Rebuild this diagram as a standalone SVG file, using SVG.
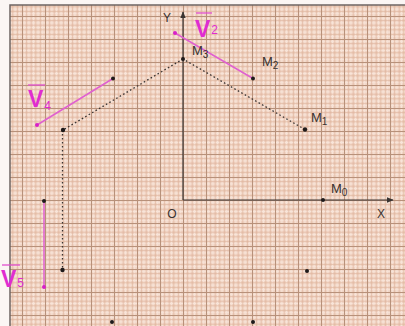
<svg xmlns="http://www.w3.org/2000/svg" width="405" height="326" viewBox="0 0 405 326">
<style>
.lbl{font-family:"Liberation Sans",Arial,sans-serif;fill:#3a3230;font-size:13px}
.ax{font-family:"Liberation Sans",Arial,sans-serif;fill:#3a3230;font-size:12px}
.vl{font-family:"Liberation Sans",Arial,sans-serif;fill:#e02cd0;font-size:23px;font-weight:bold}
.sub{font-size:10px}
.vsub{font-size:12px;font-weight:normal}
.pt{fill:#1e1a1a}
.mpt{fill:#d820c8}
.axis{stroke:#3a3432;stroke-width:1.2;fill:none}
.dot{stroke:#3a3432;stroke-width:1.3;stroke-dasharray:1.6 2.4;fill:none}
.vec{stroke:#e060d0;stroke-width:1.5;fill:none}
.bar{stroke:#e050d0;stroke-width:1.3}
</style>
<defs>
<pattern id="grid" patternUnits="userSpaceOnUse" x="183" y="200" width="23" height="23">
<rect width="23" height="23" fill="#f0d3c3"/>
<g stroke="#f8e4d8" stroke-width="1">
<line x1="2.3" y1="0" x2="2.3" y2="23"/><line x1="6.9" y1="0" x2="6.9" y2="23"/><line x1="11.5" y1="0" x2="11.5" y2="23"/><line x1="16.1" y1="0" x2="16.1" y2="23"/><line x1="20.7" y1="0" x2="20.7" y2="23"/>
<line y1="2.3" x1="0" y2="2.3" x2="23"/><line y1="6.9" x1="0" y2="6.9" x2="23"/><line y1="11.5" x1="0" y2="11.5" x2="23"/><line y1="16.1" x1="0" y2="16.1" x2="23"/><line y1="20.7" x1="0" y2="20.7" x2="23"/>
</g>
<g stroke="#e0b49d" stroke-width="0.7">
<line x1="4.6" y1="0" x2="4.6" y2="23"/><line x1="9.2" y1="0" x2="9.2" y2="23"/><line x1="13.8" y1="0" x2="13.8" y2="23"/><line x1="18.4" y1="0" x2="18.4" y2="23"/>
<line y1="4.6" x1="0" y2="4.6" x2="23"/><line y1="9.2" x1="0" y2="9.2" x2="23"/><line y1="13.8" x1="0" y2="13.8" x2="23"/><line y1="18.4" x1="0" y2="18.4" x2="23"/>
</g>
<g stroke="#b8917a" stroke-width="1">
<line x1="0.5" y1="0" x2="0.5" y2="23"/><line y1="0.5" x1="0" y2="0.5" x2="23"/>
</g>
</pattern>
<marker id="arr" viewBox="0 0 10 10" refX="9" refY="5" markerWidth="7" markerHeight="7" orient="auto" markerUnits="userSpaceOnUse">
<path d="M0,1 L10,5 L0,9 Z" fill="#3a3432"/>
</marker>
</defs>
<rect x="0" y="0" width="405" height="326" fill="#fbf6f4"/>
<rect x="10" y="5" width="395" height="321" fill="url(#grid)"/>
<path d="M10,326 V5 H405" stroke="#6e6462" stroke-width="1.5" fill="none"/>

<g id="axes">
<line class="axis" x1="183" y1="200" x2="183" y2="12" marker-end="url(#arr)"/>
<line class="axis" x1="183" y1="200" x2="393" y2="200" marker-end="url(#arr)"/>
<text class="ax" x="167" y="22" text-anchor="middle">Y</text>
<text class="ax" x="381" y="218" text-anchor="middle">X</text>
<text class="ax" x="172" y="218" text-anchor="middle">O</text>
</g>

<g id="connectors">
<line class="dot" x1="305" y1="129.5" x2="183" y2="59"/>
<line class="dot" x1="183" y1="59" x2="63" y2="130"/>
<line class="dot" x1="62.5" y1="130" x2="62.5" y2="270"/>
<line class="vec" x1="253" y1="78.5" x2="175" y2="33"/>
<line class="vec" x1="113" y1="78.5" x2="37" y2="125"/>
<line class="vec" x1="44" y1="201" x2="44" y2="287"/>
</g>

<g id="M0"><circle class="pt" cx="323" cy="200" r="2"/><text class="lbl" x="331" y="193">M<tspan class="sub" dy="3">0</tspan></text></g>
<g id="M1"><circle class="pt" cx="305" cy="129.5" r="2.2"/><text class="lbl" x="311" y="122">M<tspan class="sub" dy="3">1</tspan></text></g>
<g id="M2"><circle class="pt" cx="253" cy="78.5" r="2"/><text class="lbl" x="262" y="66">M<tspan class="sub" dy="3">2</tspan></text></g>
<g id="M3"><circle class="pt" cx="183" cy="59" r="2"/><text class="lbl" x="192" y="55">M<tspan class="sub" dy="3">3</tspan></text></g>
<g id="M4"><circle class="pt" cx="113" cy="78.5" r="2"/></g>
<g id="M5"><circle class="pt" cx="63" cy="130" r="2.2"/></g>
<g id="M6"><circle class="pt" cx="44" cy="201" r="2"/></g>
<g id="M7"><circle class="pt" cx="62.5" cy="270" r="2.2"/></g>
<g id="M8"><circle class="pt" cx="112" cy="322" r="2"/></g>
<g id="M10"><circle class="pt" cx="253" cy="322" r="2"/></g>
<g id="M11"><circle class="pt" cx="307" cy="271" r="2"/></g>

<g id="V2"><circle class="mpt" cx="175" cy="33" r="2"/><line class="bar" x1="196" y1="13" x2="212" y2="13"/><text class="vl" x="195" y="37">V<tspan class="vsub" dx="1" dy="-3">2</tspan></text></g>
<g id="V4"><circle class="mpt" cx="37" cy="125" r="2"/><line class="bar" x1="28" y1="85" x2="45" y2="85"/><text class="vl" x="28" y="107">V<tspan class="vsub" dx="1" dy="3">4</tspan></text></g>
<g id="V5"><circle class="mpt" cx="44" cy="287" r="2"/><line class="bar" x1="2" y1="265" x2="20" y2="265"/><text class="vl" x="1" y="287">V<tspan class="vsub" dx="1" dy="0">5</tspan></text></g>
</svg>
